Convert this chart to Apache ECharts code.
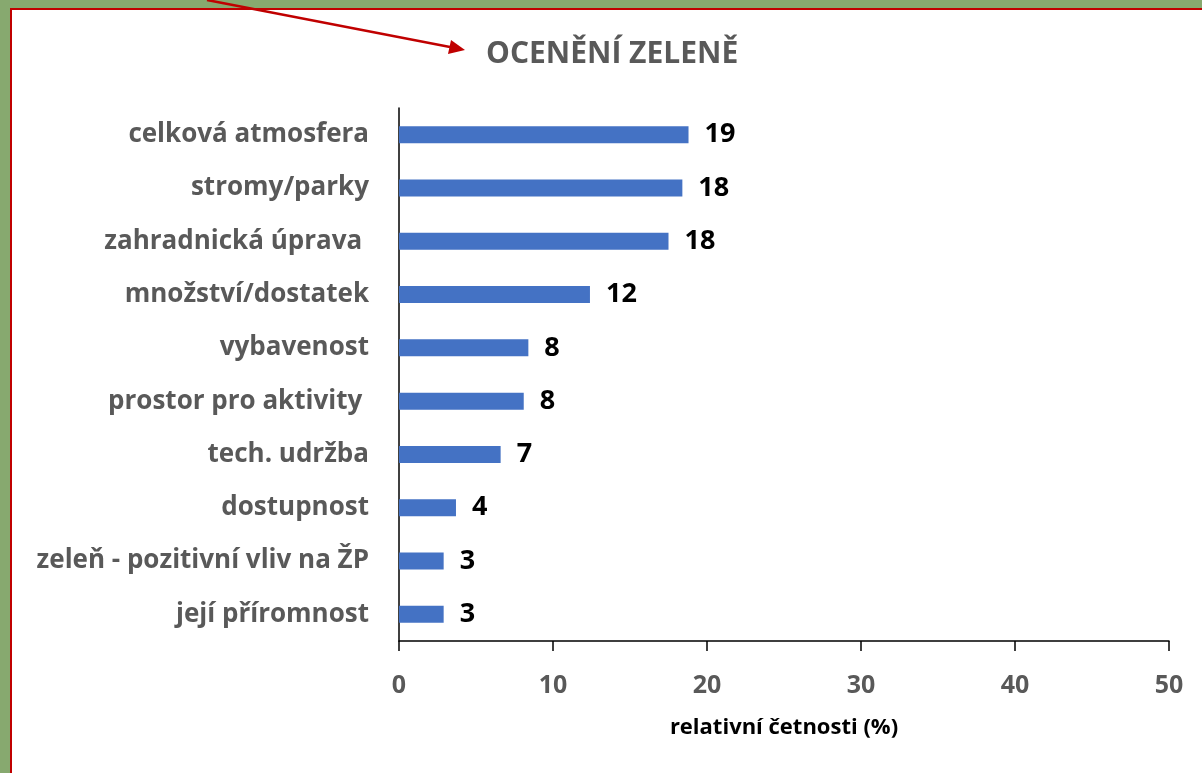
<!DOCTYPE html>
<html>
<head>
<meta charset="utf-8">
<script src="https://cdn.jsdelivr.net/npm/echarts@6/dist/echarts.min.js"></script>
<style>
  html, body { margin: 0; padding: 0; background: #87A96F; overflow: hidden; }
  #panel { position: absolute; left: 10px; top: 8px; width: 1300px; height: 900px; background: #fff; border: 2px solid #C00000; }
  #viz { position: absolute; left: 0; top: 0; width: 1202px; height: 773px; }
</style>
</head>
<body>
<div id="panel"></div>
<div id="viz"></div>
<script>
// categories from top to bottom
var categories = ['celková atmosfera', 'stromy/parky', 'zahradnická úprava ', 'množství/dostatek',
  'vybavenost', 'prostor pro aktivity ', 'tech. udržba', 'dostupnost',
  'zeleň - pozitivní vliv na ŽP', 'její příromnost'];
var values = [18.8, 18.4, 17.5, 12.4, 8.4, 8.1, 6.6, 3.7, 2.9, 2.9];
var xTicks = [0, 10, 20, 30, 40, 50];

var font = '"Open Sans", Lato, sans-serif';

function plotrun(){
  var myChart = echarts.init(document.getElementById('viz'));
  var option = {
    backgroundColor: 'transparent',
    animation: false,
    title: {
      text: 'OCENĚNÍ ZELENĚ',
      left: 481,
      top: 34,
      textStyle: { color: '#595959', fontFamily: font, fontWeight: 'bold', fontSize: 30 }
    },
    grid: { left: 399, right: 33, top: 108, bottom: 132, containLabel: false },
    xAxis: {
      type: 'value',
      min: xTicks[0],
      max: xTicks[xTicks.length - 1],
      interval: 10,
      name: 'relativní četnosti (%)',
      nameLocation: 'middle',
      nameGap: 76,
      nameTextStyle: { color: '#000', fontFamily: font, fontWeight: 'bold', fontSize: 22 },
      axisLine: { show: true, lineStyle: { color: '#000', width: 1.5 } },
      axisTick: { show: true, length: 10, lineStyle: { color: '#000', width: 1.5 } },
      splitLine: { show: false },
      axisLabel: { margin: 32, color: '#595959', fontFamily: font, fontWeight: 'bold', fontSize: 25 }
    },
    yAxis: {
      type: 'category',
      inverse: true,
      data: categories,
      axisLine: { show: true, lineStyle: { color: '#000', width: 1.5 } },
      axisTick: { show: false },
      axisLabel: { margin: 30, color: '#595959', fontFamily: font, fontWeight: 'bold', fontSize: 26 }
    },
    series: [{
      name: 'oceneni',
      type: 'bar',
      data: values,
      barWidth: 17,
      itemStyle: { color: '#4472C4' },
      label: {
        show: true,
        position: 'right',
        distance: 16,
        color: '#000',
        fontFamily: font,
        fontWeight: 'bold',
        fontSize: 27,
        formatter: function(p){ return Math.round(p.value); }
      }
    }],
    graphic: [{
      type: 'line',
      shape: { x1: 207, y1: 0, x2: 450, y2: 47 },
      style: { stroke: '#C00000', lineWidth: 2.5 }
    }, {
      type: 'polygon',
      shape: { points: [[465, 50], [448, 54], [451, 40]] },
      style: { fill: '#C00000' }
    }]
  };
  myChart.setOption(option);
}

plotrun();
</script>
</body>
</html>
